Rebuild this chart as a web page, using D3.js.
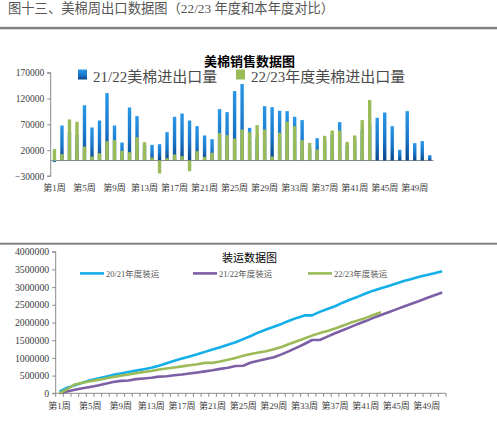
<!DOCTYPE html>
<html><head><meta charset="utf-8">
<script src="https://cdn.jsdelivr.net/npm/d3@7/dist/d3.min.js"></script>
<style>
body{margin:0;background:#fff}
svg{display:block}
text{font-family:"Liberation Serif","Noto Sans CJK SC",serif}
</style>
</head><body>
<svg id="c" width="497" height="427"></svg>
<script>
// ---------- DATA ----------
const weeks = d3.range(1, 52).map(i => "第" + i + "周");
const barSeriesNames = ["21/22美棉进出口量", "22/23年度美棉进出口量"];
const exports2122 = [-3000,67800,55000,50000,107000,64000,77500,130500,67800,34900,
  102700,85900,30000,30400,31600,54900,84600,91000,77500,66500,
  48500,41300,99500,93700,134400,148000,63300,45000,105300,103400,
  96300,95600,84600,78200,25000,43300,40000,50000,74300,30000,
  42000,60000,70000,82700,93000,66500,20700,95600,33600,37500,
  10300];
const exports2223 = [22000,12300,79500,75000,27000,7800,14200,37500,39400,18700,
  16100,45200,35500,5800,-25200,4500,11600,8400,-20700,18100,
  7100,14900,53000,49100,42600,60100,54900,68500,60100,7800,
  53600,75000,66500,39400,34200,21300,47800,58100,58100,36200,
  48500,78200,117000];
const barTicks = [-30000, 20000, 70000, 120000, 170000];

const lineSeriesNames = ["20/21年度装运", "21/22年度装运", "22/23年度装运"];
const ship2021 = [45000,160000,230000,300000,370000,420000,470000,520000,560000,600000,
  640000,680000,720000,780000,850000,920000,980000,1040000,1100000,1170000,
  1240000,1300000,1370000,1440000,1530000,1620000,1720000,1800000,1880000,1960000,
  2050000,2130000,2200000,2200000,2300000,2380000,2460000,2560000,2650000,2730000,
  2820000,2900000,2970000,3030000,3100000,3170000,3230000,3290000,3340000,3390000,
  3446000];
const ship2122 = [0,50000,100000,140000,180000,220000,270000,320000,350000,360000,
  400000,420000,440000,470000,480000,510000,530000,560000,590000,620000,
  650000,690000,720000,770000,780000,870000,920000,970000,1020000,1100000,
  1190000,1290000,1393000,1506000,1506000,1600000,1695000,1780000,1870000,1960000,
  2040000,2130000,2210000,2290000,2370000,2450000,2530000,2610000,2690000,2770000,
  2850000];
const ship2223 = [0,120000,250000,300000,340000,380000,420000,460000,500000,530000,
  570000,600000,630000,670000,700000,730000,760000,790000,820000,860000,
  860000,900000,950000,1000000,1060000,1110000,1150000,1190000,1243000,1310000,
  1390000,1470000,1550000,1630000,1700000,1760000,1830000,1910000,1990000,2060000,
  2130000,2210000,2290000];
const lineTicks = [0,500000,1000000,1500000,2000000,2500000,3000000,3500000,4000000];
const labelWeeks = weeks.filter((w, i) => i % 4 === 0);

// ---------- DRAW ----------
const svg = d3.select("#c");
const axisCol = "#8c8c8c", labelCol = "#404040";
const greenCol = "#9bbb59";
const lineCols = ["#14aee8", "#7d5fa6", "#9bbb59"];

const defs = svg.append("defs");
const g1 = defs.append("linearGradient").attr("id", "bluegrad").attr("x1", 0).attr("y1", 0).attr("x2", 0).attr("y2", 1);
g1.append("stop").attr("offset", "0%").attr("stop-color", "#2a97e6");
g1.append("stop").attr("offset", "55%").attr("stop-color", "#1877cc");
g1.append("stop").attr("offset", "100%").attr("stop-color", "#0b4586");

// header
svg.append("text").attr("x", 8).attr("y", 13).attr("font-size", 13.3).attr("fill", "#555")
  .text("图十三、美棉周出口数据图（22/23 年度和本年度对比）");
svg.append("rect").attr("x", 0).attr("y", 26.8).attr("width", 497).attr("height", 2.5).attr("fill", "#808080");
svg.append("rect").attr("x", 0).attr("y", 242.7).attr("width", 497).attr("height", 2).attr("fill", "#808080");

// ===== Top bar chart =====
const xb = d3.scaleBand().domain(weeks).range([50.7, 433.5]);
const yb = d3.scaleLinear().domain([-30000, 170000]).range([176, 72.7]);
const barW = 3.4;

const topG = svg.append("g");
topG.append("line").attr("x1", 50.7).attr("x2", 433.5).attr("y1", yb(0)).attr("y2", yb(0))
  .attr("stroke", axisCol).attr("stroke-width", 1);
const yAxisB = d3.axisLeft(yb).tickValues(barTicks).tickSize(3.5).tickPadding(3)
  .tickFormat(d => d3.format("d")(d).replace("-", "−"));
const yag = topG.append("g").attr("transform", "translate(50.7,0)").call(yAxisB);
yag.select(".domain").attr("stroke", axisCol).attr("d", `M-3.5,${yb(170000)}H0V${yb(-30000)}H-3.5`);
yag.selectAll(".tick line").attr("stroke", axisCol);
yag.selectAll(".tick text").attr("font-size", 9.5).attr("fill", labelCol).attr("font-family", '"Liberation Serif",serif');

topG.append("g").selectAll("rect").data(exports2122).join("rect")
  .attr("x", (d, i) => xb(weeks[i]) + xb.bandwidth() / 2 - barW / 2)
  .attr("width", barW)
  .attr("y", d => yb(Math.max(0, d)))
  .attr("height", d => Math.abs(yb(d) - yb(0)))
  .attr("fill", "url(#bluegrad)");
topG.append("g").selectAll("rect").data(exports2223).join("rect")
  .attr("x", (d, i) => xb(weeks[i]) + xb.bandwidth() / 2 - barW / 2)
  .attr("width", barW)
  .attr("y", d => yb(Math.max(0, d)))
  .attr("height", d => Math.abs(yb(d) - yb(0)))
  .attr("fill", greenCol);

topG.append("g").selectAll("text").data(labelWeeks).join("text")
  .attr("x", d => xb(d) + xb.bandwidth() / 2)
  .attr("y", 191).attr("text-anchor", "middle")
  .attr("font-size", 9).attr("fill", labelCol).text(d => d);

topG.append("text").attr("x", 249.5).attr("y", 66).attr("text-anchor", "middle")
  .attr("font-size", 13).attr("font-weight", "bold").attr("fill", "#000")
  .attr("font-family", '"Noto Sans CJK SC",sans-serif').text("美棉销售数据图");
const legB = [{x: 78, fill: "url(#bluegrad)", name: barSeriesNames[0]}, {x: 236, fill: greenCol, name: barSeriesNames[1]}];
legB.forEach(l => {
  topG.append("rect").attr("x", l.x).attr("y", 69.5).attr("width", 9).attr("height", 10).attr("fill", l.fill);
  topG.append("text").attr("x", l.x + 15).attr("y", 81.5).attr("font-size", 15).attr("fill", "#4a4a4a").text(l.name);
});

// ===== Bottom line chart =====
const xl = d3.scaleBand().domain(weeks).range([55.7, 446]);
const yl = d3.scaleLinear().domain([0, 4000000]).range([393.3, 251.7]);
const botG = svg.append("g");

const yAxisL = d3.axisLeft(yl).tickValues(lineTicks).tickSize(3.5).tickPadding(3).tickFormat(d3.format("d"));
const ylg = botG.append("g").attr("transform", "translate(55.7,0)").call(yAxisL);
ylg.select(".domain").attr("stroke", axisCol).attr("d", `M-3.5,${yl(4000000)}H0V${yl(0)}H-3.5`);
ylg.selectAll(".tick line").attr("stroke", axisCol);
ylg.selectAll(".tick text").attr("font-size", 9.8).attr("fill", labelCol);

botG.append("line").attr("x1", 55.7).attr("x2", 446).attr("y1", yl(0)).attr("y2", yl(0)).attr("stroke", axisCol);
const bounds = weeks.map(w => xl(w)).concat([446]);
botG.append("g").selectAll("line").data(bounds).join("line")
  .attr("x1", d => d).attr("x2", d => d).attr("y1", yl(0)).attr("y2", yl(0) + 3.5)
  .attr("stroke", axisCol);
botG.append("g").selectAll("text").data(labelWeeks).join("text")
  .attr("x", d => xl(d) + xl.bandwidth() / 2)
  .attr("y", 408.5).attr("text-anchor", "middle")
  .attr("font-size", 9).attr("fill", labelCol).text(d => d);

const line = d3.line().x((d, i) => xl(weeks[i]) + xl.bandwidth() / 2).y(d => yl(d));
[ship2021, ship2122, ship2223].forEach((s, k) => {
  botG.append("path").attr("d", line(s)).attr("fill", "none")
    .attr("stroke", lineCols[k]).attr("stroke-width", 2.6).attr("stroke-linejoin", "round");
});

botG.append("text").attr("x", 249.5).attr("y", 262).attr("text-anchor", "middle")
  .attr("font-size", 11).attr("fill", "#000").text("装运数据图");
const legL = [{x: 80, k: 0}, {x: 193, k: 1}, {x: 308, k: 2}];
legL.forEach(l => {
  botG.append("line").attr("x1", l.x).attr("x2", l.x + 24).attr("y1", 273.4).attr("y2", 273.4)
    .attr("stroke", lineCols[l.k]).attr("stroke-width", 2.6);
  botG.append("text").attr("x", l.x + 26).attr("y", 276.6).attr("font-size", 8.5).attr("fill", "#555")
    .text(lineSeriesNames[l.k]);
});
</script>
</body></html>
